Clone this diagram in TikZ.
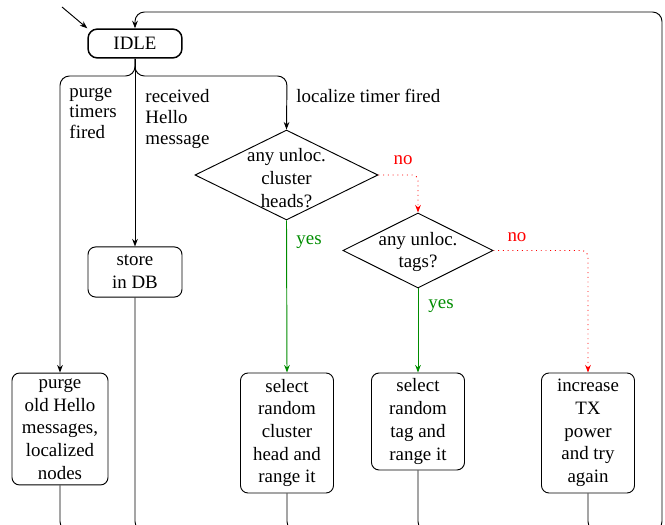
\documentclass[tikz,border=0pt]{standalone}
\usepackage{fontspec}
\setmainfont{Liberation Serif}
\usetikzlibrary{arrows.meta,shapes.geometric}
\definecolor{yesgreen}{rgb}{0,0.55,0}
\begin{document}
\begin{tikzpicture}[x=0.529pt,y=-0.529pt,
  font=\fontsize{10}{12}\selectfont,
  line width=0.5pt,
  box/.style={draw,rounded corners=4pt,align=center,inner sep=0pt},
  arr/.style={-{Stealth[length=4pt,width=3pt]}},
  yesline/.style={arr,draw=yesgreen},
  noline/.style={arr,draw=red,dotted,rounded corners=3pt},
  lbl/.style={align=left,anchor=north west,inner sep=0pt,font=\fontsize{10}{11}\selectfont},
  yeslbl/.style={text=yesgreen,anchor=west,inner sep=0pt},
  nolbl/.style={text=red,anchor=center,inner sep=0pt},
  dia/.style={diamond,draw,inner sep=0pt}]
\useasboundingbox (0,0) rectangle (665,525);
\clip (0,0) rectangle (665,525);

% nodes
\node[box,minimum width=49.7pt,minimum height=15.3pt,rounded corners=5pt,line width=0.8pt] (idle) at (135,43.5) {IDLE};
\node[box,minimum width=49.7pt,minimum height=26.5pt] (store) at (135,272) {store\\in DB};
\node[box,minimum width=50.8pt,minimum height=59.2pt] (purge) at (60,429) {purge\\old Hello\\messages,\\localized\\nodes};
\node[dia,minimum width=96.8pt,minimum height=47.6pt] (d1) at (286.5,175) {};
\node[align=center,inner sep=0pt] (d1t) at (286.5,178) {any unloc.\\cluster\\heads?};
\node[dia,minimum width=79.4pt,minimum height=39.7pt] (d2) at (418,250.5) {};
\node[align=center,inner sep=0pt] (d2t) at (418,252) {any unloc.\\tags?};
\node[box,minimum width=49.2pt,minimum height=63.5pt] (clus) at (287,433) {select\\random\\cluster\\head and\\range it};
\node[box,minimum width=49.2pt,minimum height=51.3pt] (tag) at (418,421.5) {select\\random\\tag and\\range it};
\node[box,minimum width=49.2pt,minimum height=63.5pt] (inc) at (588,433) {increase\\TX\\power\\and try\\again};

% coordinates
\coordinate (init) at (62,7);
\coordinate (brL) at (60,76);
\coordinate (brR) at (287,76);
\coordinate (botR) at (662,531);
\coordinate (topL) at (135,12);

% labels
\node[lbl] (l1) at (69,87) {purge\\timers\\fired};
\node[lbl] (l2) at (145,89) {received\\Hello\\message};
\node[lbl] (l3) at (296,89) {localize timer fired};
\node[nolbl] (no1) at (403,160) {no};
\node[nolbl] (no2) at (517,237) {no};
\node[yeslbl] (yes1) at (296,242) {yes};
\node[yeslbl] (yes2) at (428,306) {yes};

% connectors
\draw[arr] (init) -- (idle.north west);
\draw[arr,rounded corners=5pt] (idle.south) |- (brL) -- (purge.north);
\draw[arr] (idle.south) -- (store.north);
\draw[arr,rounded corners=5pt] (idle.south) |- (brR) -- (d1.north);
\draw[yesline] (d1.south) -- (clus.north);
\draw[yesline] (d2.south) -- (tag.north);
\draw[noline] (d1.east) -| (d2.north);
\draw[noline] (d2.east) -| (inc.north);

\draw[arr,rounded corners=5pt] (purge.south) |- (botR) |- (topL) -- (idle.north);
\draw[rounded corners=5pt] (store.south) |- (botR);
\draw[rounded corners=5pt] (clus.south) |- (botR);
\draw[rounded corners=5pt] (tag.south) |- (botR);
\draw[rounded corners=5pt] (inc.south) |- (botR);
\end{tikzpicture}
\end{document}
